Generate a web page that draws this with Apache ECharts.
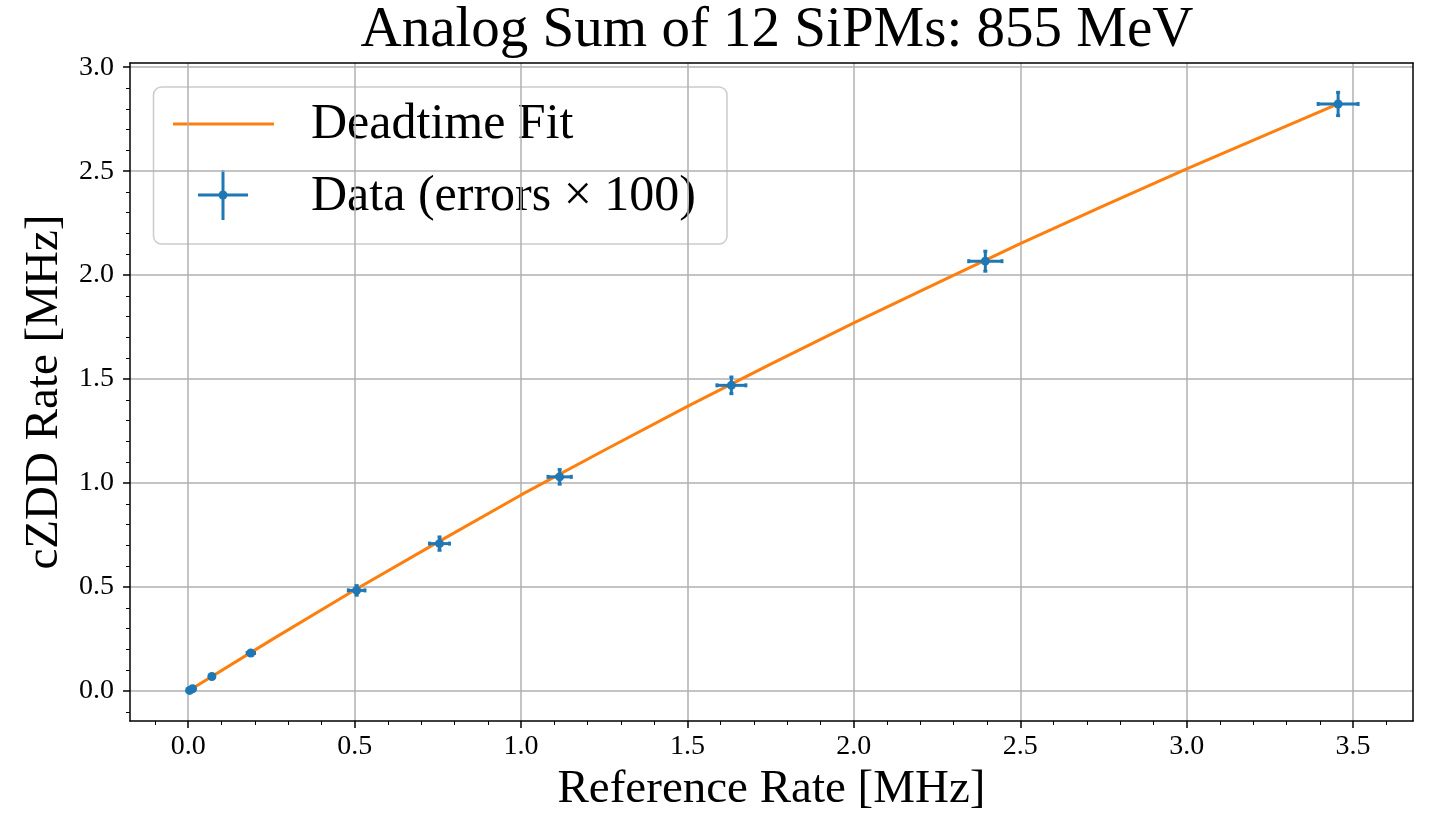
<!DOCTYPE html>
<html>
<head>
<meta charset="utf-8">
<title>Analog Sum of 12 SiPMs</title>
<script src="https://cdn.jsdelivr.net/npm/echarts@6/dist/echarts.min.js"></script>
<style>
  html, body { margin: 0; padding: 0; background: #fff; }
  #chart { width: 1432px; height: 819px; }
</style>
</head>
<body>
<div id="chart"></div>
<script>
// measured points (reference rate vs cZDD rate, MHz)
const refRate = [0.004, 0.013, 0.071, 0.188, 0.506, 0.755, 1.116, 1.632, 2.395, 3.455];
const zddRate = [0.003, 0.011, 0.070, 0.183, 0.484, 0.709, 1.030, 1.470, 2.067, 2.823];
// error bars, already scaled x100 as in the plot
const refErr = [0.003, 0.004, 0.006, 0.011, 0.025, 0.030, 0.035, 0.0435, 0.050, 0.060];
const zddErr = [0.003, 0.004, 0.006, 0.010, 0.023, 0.032, 0.035, 0.040, 0.048, 0.056];

// deadtime fit curve
const fitX = [0, 0.25, 0.5, 0.75, 1.0, 1.25, 1.5, 1.75, 2.0, 2.25, 2.5, 2.75, 3.0, 3.25, 3.455];
const fitY = [0, 0.246, 0.486, 0.716, 0.943, 1.158, 1.369, 1.572, 1.770, 1.962, 2.151, 2.333, 2.511, 2.683, 2.823];

// major tick labels
const xTicks = [0, 0.5, 1.0, 1.5, 2.0, 2.5, 3.0, 3.5];
const yTicks = [0, 0.5, 1.0, 1.5, 2.0, 2.5, 3.0];

const FONT = "'Liberation Serif', 'DejaVu Serif', serif";
const BLUE = '#1f77b4';
const ORANGE = '#ff7f0e';

const fitData = fitX.map((x, i) => [x, fitY[i]]);
const pointData = refRate.map((x, i) => [x, zddRate[i], refErr[i], zddErr[i]]);

function renderErrorBar(params, api) {
  const x = api.value(0), y = api.value(1), ex = api.value(2), ey = api.value(3);
  const l = api.coord([x - ex, y]), r = api.coord([x + ex, y]);
  const b = api.coord([x, y - ey]), t = api.coord([x, y + ey]);
  const c = api.coord([x, y]);
  const cap = 2;
  const st = { stroke: BLUE, lineWidth: 3 };
  return {
    type: 'group',
    children: [
      { type: 'line', shape: { x1: l[0], y1: l[1], x2: r[0], y2: r[1] }, style: st },
      { type: 'line', shape: { x1: b[0], y1: b[1], x2: t[0], y2: t[1] }, style: st },
      { type: 'line', shape: { x1: l[0], y1: l[1] - cap, x2: l[0], y2: l[1] + cap }, style: st },
      { type: 'line', shape: { x1: r[0], y1: r[1] - cap, x2: r[0], y2: r[1] + cap }, style: st },
      { type: 'line', shape: { x1: b[0] - cap, y1: b[1], x2: b[0] + cap, y2: b[1] }, style: st },
      { type: 'line', shape: { x1: t[0] - cap, y1: t[1], x2: t[0] + cap, y2: t[1] }, style: st },
      { type: 'circle', shape: { cx: c[0], cy: c[1], r: 4.5 }, style: { fill: BLUE } }
    ]
  };
}

const labelStyle = { color: '#000', fontFamily: FONT, fontSize: 28, formatter: v => v.toFixed(1) };
const frame = { show: true, onZero: false, lineStyle: { color: '#000', width: 1.5 } };
const minor = { show: true, splitNumber: 5, length: 4, lineStyle: { color: '#000', width: 1 } };
const grid = { show: true, lineStyle: { color: '#b0b0b0', width: 1.5 } };

const option = {
  animation: false,
  backgroundColor: '#fff',
  title: {
    text: 'Analog Sum of 12 SiPMs: 855 MeV',
    left: 772, top: -2, textAlign: 'center',
    textStyle: { fontFamily: FONT, fontSize: 57, fontWeight: 'normal', color: '#000' }
  },
  grid: { left: 130, right: 19, top: 63, bottom: 98 },
  xAxis: [{
    type: 'value', min: -0.175, max: 3.68, splitNumber: 7,
    name: 'Reference Rate [MHz]', nameLocation: 'middle', nameGap: 42,
    nameTextStyle: { fontFamily: FONT, fontSize: 47, color: '#000' },
    axisLine: frame,
    axisTick: { show: true, length: 7, customValues: xTicks, lineStyle: { color: '#000', width: 1.5 } },
    minorTick: minor,
    axisLabel: Object.assign({ margin: 12, customValues: xTicks }, labelStyle),
    splitLine: grid
  }, {
    type: 'value', position: 'top', min: -0.175, max: 3.68,
    axisLine: frame, axisTick: { show: false }, axisLabel: { show: false }, splitLine: { show: false }
  }],
  yAxis: [{
    type: 'value', min: -0.144, max: 3.02, splitNumber: 6,
    name: 'cZDD Rate [MHz]', nameLocation: 'middle', nameGap: 62,
    nameTextStyle: { fontFamily: FONT, fontSize: 47, color: '#000' },
    axisLine: frame,
    axisTick: { show: true, length: 7, customValues: yTicks, lineStyle: { color: '#000', width: 1.5 } },
    minorTick: minor,
    axisLabel: Object.assign({ margin: 16, customValues: yTicks }, labelStyle),
    splitLine: grid
  }, {
    type: 'value', position: 'right', min: -0.144, max: 3.02,
    axisLine: frame, axisTick: { show: false }, axisLabel: { show: false }, splitLine: { show: false }
  }],
  series: [{
    name: 'Deadtime Fit',
    type: 'line',
    data: fitData,
    showSymbol: false,
    smooth: false,
    lineStyle: { color: ORANGE, width: 3 },
    z: 3
  }, {
    name: 'Data (errors × 100)',
    type: 'custom',
    data: pointData,
    renderItem: renderErrorBar,
    encode: { x: 0, y: 1 },
    z: 4
  }],
  graphic: [{
    type: 'group', z: 100,
    children: [
      { type: 'rect', shape: { x: 153.5, y: 87, width: 573.5, height: 157, r: 8 },
        style: { fill: 'rgba(255,255,255,0.8)', stroke: '#cccccc', lineWidth: 1.5 } },
      { type: 'line', shape: { x1: 173, y1: 124, x2: 274, y2: 124 }, style: { stroke: ORANGE, lineWidth: 3 } },
      { type: 'text', x: 311, y: 125, style: { text: 'Deadtime Fit', fontFamily: FONT, fontSize: 50, fill: '#000', verticalAlign: 'middle' } },
      { type: 'line', shape: { x1: 198, y1: 195, x2: 248, y2: 195 }, style: { stroke: BLUE, lineWidth: 3 } },
      { type: 'line', shape: { x1: 223, y1: 170, x2: 223, y2: 220 }, style: { stroke: BLUE, lineWidth: 3 } },
      { type: 'circle', shape: { cx: 223, cy: 195, r: 4.5 }, style: { fill: BLUE } },
      { type: 'text', x: 311, y: 197, style: { text: 'Data (errors × 100)', fontFamily: FONT, fontSize: 50, fill: '#000', verticalAlign: 'middle' } }
    ]
  }]
};

const chart = echarts.init(document.getElementById('chart'));
chart.setOption(option);
</script>
</body>
</html>
